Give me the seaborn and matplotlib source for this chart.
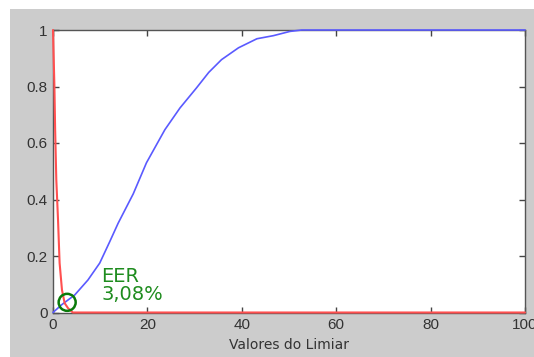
import matplotlib
matplotlib.use("Agg")
import matplotlib.pyplot as plt
from matplotlib.patches import Rectangle
import seaborn as sns
import pandas as pd

# ---- data ----
limiar_azul = [0, 1.8, 4.6, 7.4, 9.9, 12.0, 13.8, 17.0, 19.8, 23.7, 26.9, 30.4,
               33.0, 35.7, 39.3, 43.2, 46.7, 50.2, 52.7, 100]
taxa_azul = [0, 0.027, 0.062, 0.115, 0.175, 0.25, 0.316, 0.42, 0.53, 0.647, 0.724,
             0.795, 0.85, 0.895, 0.937, 0.969, 0.98, 0.995, 1.0, 1.0]

limiar_vermelho = [0, 0.1, 0.3, 0.45, 0.7, 1.06, 1.4, 1.9, 2.47, 3.2, 4.2, 100]
taxa_vermelho = [1.0, 0.93, 0.8, 0.65, 0.47, 0.33, 0.175, 0.08, 0.033, 0.015, 0, 0]

eer_x = [3.0]
eer_y = [0.036]
eer_texto = "EER\n3,08%"

x_ticks = [0, 20, 40, 60, 80, 100]
y_ticks = [0, 0.2, 0.4, 0.6, 0.8, 1.0]
y_tick_labels = ["0", "0.2", "0.4", "0.6", "0.8", "1"]
x_label = "Valores do Limiar"

df_azul = pd.DataFrame({"limiar": limiar_azul, "taxa": taxa_azul})
df_verm = pd.DataFrame({"limiar": limiar_vermelho, "taxa": taxa_vermelho})
df_eer = pd.DataFrame({"limiar": eer_x, "taxa": eer_y})

sns.set_style("white")
plt.rcParams["font.family"] = ["Liberation Sans", "DejaVu Sans"]

fig = plt.figure(figsize=(5.34, 3.57), dpi=100, facecolor="white")
fig.add_artist(Rectangle((10 / 534, 0), 1 - 10 / 534, 1 - 9 / 357,
                         transform=fig.transFigure, facecolor="#cccccc",
                         edgecolor="none", zorder=0))
ax = fig.add_axes([53 / 534, 1 - 312.5 / 357, 472 / 534, 282.5 / 357])
ax.set_facecolor("white")

sns.lineplot(data=df_azul, x="limiar", y="taxa", ax=ax, color="#5a5aff",
             linewidth=1.2, estimator=None, sort=False, zorder=3, clip_on=False)
sns.lineplot(data=df_verm, x="limiar", y="taxa", ax=ax, color="#ff5050",
             linewidth=1.5, estimator=None, sort=False, zorder=3, clip_on=False)
sns.scatterplot(data=df_eer, x="limiar", y="taxa", ax=ax, marker="o",
                s=150, facecolor="none", edgecolor="#0a7a0a", linewidth=1.8,
                zorder=4, clip_on=False)

ax.text(10.3, 0.16, eer_texto, color="#1e8c1e", fontsize=14, ha="left",
        va="top", linespacing=0.9, family=["DejaVu Sans"])

ax.set_xlim(0, 100)
ax.set_ylim(0, 1)
ax.set_xticks(x_ticks)
ax.set_xticklabels([str(t) for t in x_ticks])
ax.set_yticks(y_ticks)
ax.set_yticklabels(y_tick_labels)
ax.set_xlabel(x_label, fontsize=10, color="#333333", labelpad=4,
              family=["DejaVu Sans"])
ax.set_ylabel("")

for s in ax.spines.values():
    s.set_visible(True)
    s.set_color("#555555")
    s.set_linewidth(1.0)

ax.tick_params(axis="both", direction="in", length=4, width=1, color="#444444",
               labelcolor="#333333", labelsize=11, top=True, right=True,
               bottom=True, left=True, pad=4)

fig.savefig("out.png", dpi=100, facecolor=fig.get_facecolor())
